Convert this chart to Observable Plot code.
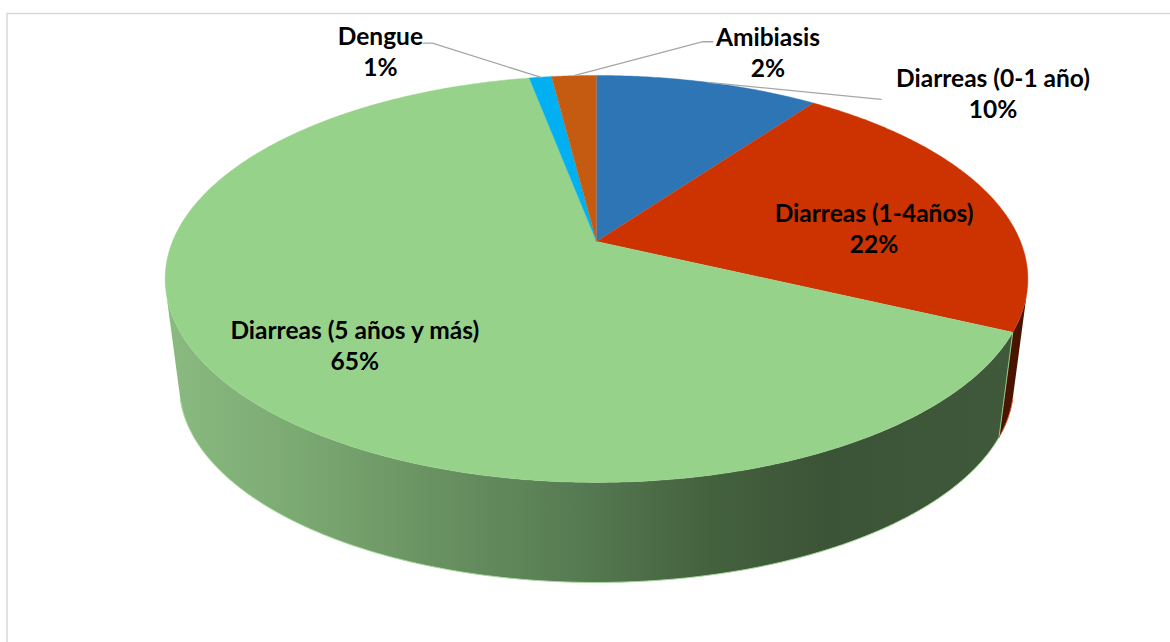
<!DOCTYPE html>
<html lang="es">
<head>
<meta charset="utf-8">
<title>Distribución de casos</title>
<script src="https://cdn.jsdelivr.net/npm/d3@7"></script>
<script src="https://cdn.jsdelivr.net/npm/@observablehq/plot@0.6"></script>
<style>
  html, body { margin: 0; padding: 0; background: #fff; }
  svg { display: block; }
</style>
</head>
<body>
<div id="chart"></div>
<script>
// Chart values, clockwise from twelve o'clock
const categories = ["Diarreas (0-1 año)", "Diarreas (1-4años)", "Diarreas (5 años y más)", "Dengue", "Amibiasis"];
const shares = [10, 22, 65, 1, 2];

// Slice styling
const topColors = ["#2E75B6", "#CC3300", "#97D28B", "#00B0F0", "#C55A11"];
const wallRamp = {
  at: [170, 300, 420, 580, 700, 830, 1010],
  color: ["#8ABA80", "#7BA972", "#6B9463", "#567A52", "#45633F", "#3B5336", "#40593B"]
};

// Label placement relative to each slice's mid-angle: radial factor, then a text offset
const placement = [
  {r: 1.0, dx: 285, dy: 10},
  {r: 0.7, dx: -1, dy: 19},
  {r: 0.68, dx: 5, dy: 14},
  {r: 1.0, dx: -160, dy: -27},
  {r: 1.0, dx: 194, dy: -24}
];

// Leader offsets from the label centre, listed from the label towards the slice
const leaders = [
  [[-112, 7]],
  null,
  null,
  [[43, -7], [52, -7]],
  [[-55, -10], [-65, -10]]
];

// Perspective of the disc: a unit circle seen from above and in front
const disc = {cx: 596, top: 241, floor: 349, floorScale: 0.967, A: 196.6, B: 424, k: 0.184};
function project(theta, r = 1, floor = false) {
  const u = Math.sin(theta), v = Math.cos(theta);
  const w = 1 + disc.k * r * v;
  const s = floor ? disc.floorScale : 1;
  return {
    x: disc.cx + s * disc.B * r * u / w,
    y: (floor ? disc.floor : disc.top) - s * disc.A * r * v / w
  };
}

const arcs = d3.pie().sort(null).value((d) => d)(shares);
const step = Math.PI / 360;
const anglesOf = (a) => {
  const n = Math.max(1, Math.ceil((a.endAngle - a.startAngle) / step));
  return d3.range(n + 1).map((i) => a.startAngle + (a.endAngle - a.startAngle) * i / n);
};

// A wall point faces the viewer when its vertical edge turns clockwise into the rim
const facesViewer = (t) => {
  const p = project(t), q = project(t, 1, true), n = project(t + 0.001);
  return (q.x - p.x) * (n.y - p.y) - (q.y - p.y) * (n.x - p.x) > 0;
};

// Outer wall of a slice: the visible top rim, then the floor rim walked backwards
const wallOf = (a) => {
  const t = anglesOf(a).filter(facesViewer);
  return [...t.map((v) => project(v)), ...t.slice().reverse().map((v) => project(v, 1, true))];
};
const redWall = wallOf(arcs[1]);
const greenWall = wallOf(arcs[2]);

// Horizontal shading of the green wall, in chart pixels
const wallGradient = () => {
  const defs = d3.create("svg:defs");
  const g = defs.append("linearGradient")
    .attr("id", "wall-shade")
    .attr("gradientUnits", "userSpaceOnUse")
    .attr("x1", wallRamp.at[0]).attr("x2", wallRamp.at[wallRamp.at.length - 1])
    .attr("y1", 0).attr("y2", 0);
  const extent = wallRamp.at[wallRamp.at.length - 1] - wallRamp.at[0];
  wallRamp.at.forEach((x, i) => {
    g.append("stop")
      .attr("offset", (x - wallRamp.at[0]) / extent)
      .attr("stop-color", wallRamp.color[i]);
  });
  return defs.node();
};

// Flat top faces
const faces = arcs.flatMap((a, i) => {
  const rim = anglesOf(a).map((t) => project(t));
  return [project(0, 0), ...rim].map((q) => ({...q, id: i, color: topColors[i]}));
});

// Thin bright edges along the bottom of the wall and at the slice break
const edges = [
  ...anglesOf(arcs[2]).filter(facesViewer).map((t) => ({...project(t, 1, true), id: "green", color: "#A5D99A"})),
  ...[project(arcs[2].startAngle), project(arcs[2].startAngle, 1, true)].map((q) => ({...q, id: "break", color: "#8FC784"})),
  ...anglesOf(arcs[1]).filter(facesViewer).map((t) => ({...project(t, 1, true), id: "red", color: "#D9552A"}))
];

const labels = arcs.map((a, i) => {
  const mid = (a.startAngle + a.endAngle) / 2;
  const p = placement[i];
  const c = project(mid, p.r);
  return {x: c.x + p.dx, y: c.y + p.dy, anchor: c, text: `${categories[i]}\n${shares[i]}%`};
});

const leaderPoints = labels.flatMap((l, i) => leaders[i]
  ? [...leaders[i].map(([dx, dy]) => ({x: l.x + dx, y: l.y + dy, id: i})), {...l.anchor, id: i}]
  : []);

const chart = Plot.plot({
  width: 1170,
  height: 642,
  margin: 0,
  x: {axis: null, domain: [0, 1170], range: [0, 1170]},
  y: {axis: null, domain: [0, 642], range: [0, 642]},
  marks: [
    wallGradient,
    Plot.ruleY([13], {x1: 6.5, x2: 1170, stroke: "#D9D9D9", strokeWidth: 1.5}),
    Plot.ruleX([6.5], {y1: 13, y2: 642, stroke: "#D9D9D9", strokeWidth: 1.5}),
    Plot.line(redWall, {x: "x", y: "y", fill: "#4A1500", stroke: "none"}),
    Plot.line(greenWall, {x: "x", y: "y", fill: "url(#wall-shade)", stroke: "none"}),
    Plot.line(edges, {x: "x", y: "y", z: "id", stroke: "color", strokeWidth: 1}),
    Plot.line(faces, {x: "x", y: "y", z: "id", fill: "color", stroke: "color", strokeWidth: 0.4}),
    Plot.line(leaderPoints, {x: "x", y: "y", z: "id", stroke: "#A6A6A6", strokeWidth: 1.3}),
    Plot.text(labels, {
      x: "x", y: "y", text: "text",
      fontFamily: "Lato", fontWeight: 700, fontSize: 24.5, lineHeight: 1.27,
      fill: "#000", textAnchor: "middle"
    })
  ]
});
document.getElementById("chart").appendChild(chart);
</script>
</body>
</html>
